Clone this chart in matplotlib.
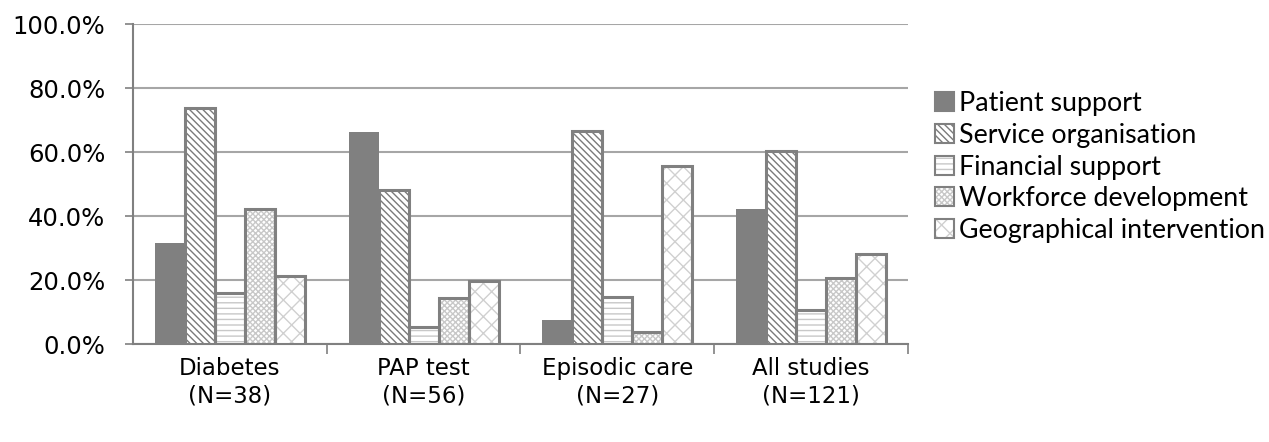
import matplotlib
matplotlib.use("Agg")
import matplotlib.pyplot as plt
import numpy as np
from matplotlib.patches import Patch
from matplotlib.legend_handler import HandlerTuple
from matplotlib.ticker import FuncFormatter, MultipleLocator, FixedLocator

# Share of studies (%) using each intervention type, by care area
groups = ["Diabetes\n(N=38)", "PAP test\n(N=56)", "Episodic care\n(N=27)", "All studies\n(N=121)"]
series = ["Patient support", "Service organisation", "Financial support",
          "Workforce development", "Geographical intervention"]
patient_support = [31.6, 66.1, 7.4, 42.1]
service_organisation = [73.7, 48.2, 66.7, 60.3]
financial_support = [15.8, 5.4, 14.8, 10.7]
workforce_development = [42.1, 14.3, 3.7, 20.7]
geographical_intervention = [21.1, 19.6, 55.6, 28.1]
values = [patient_support, service_organisation, financial_support,
          workforce_development, geographical_intervention]

# fill, hatch pattern, hatch colour
styles = [
    ("#808080", None, "#808080"),
    ("#ffffff", "\\\\\\\\\\", "#7a7a7a"),
    ("#ffffff", "---", "#c8c8c8"),
    ("#ffffff", "xxxxxx", "#c8c8c8"),
    ("#ffffff", "xx", "#d0d0d0"),
]
edge = "#808080"

plt.rcParams["font.family"] = ["DejaVu Sans"]
plt.rcParams["hatch.linewidth"] = 1.0
fig = plt.figure(figsize=(12.69, 4.42), dpi=100)
ax = fig.add_axes([0.1048, 0.2217, 0.6107, 0.724])

x = np.arange(len(groups))
w = 0.155
for i, (vals, (fc, hatch, hc)) in enumerate(zip(values, styles)):
    pos = x + (i - 2) * w
    ax.bar(pos, vals, width=w, color=fc, hatch=hatch, edgecolor=hc,
           linewidth=0, zorder=3)
    ax.bar(pos, vals, width=w, fill=False, edgecolor=edge,
           linewidth=0 if hatch is None else 2.2, zorder=4)

ax.set_xlim(-0.5, len(groups) - 0.5)
ax.set_ylim(0, 100)
ax.yaxis.set_major_locator(MultipleLocator(20))
ax.yaxis.set_major_formatter(FuncFormatter(lambda v, p: f"{v:.1f}%"))
ax.grid(axis="y", color="#a6a6a6", linewidth=1.5, zorder=0)
ax.set_axisbelow(True)

ax.set_xticks(x)
ax.set_xticklabels(groups, linespacing=1.3, family="DejaVu Sans")
ax.xaxis.set_minor_locator(FixedLocator(np.arange(0.5, len(groups), 1.0)))
ax.tick_params(axis="x", which="major", length=0, pad=9, labelsize=16.5)
ax.tick_params(axis="x", which="minor", length=7, width=1.2, color="#808080")
ax.tick_params(axis="y", length=6, width=1.2, color="#808080", pad=14, labelsize=17.5)
for lab in ax.get_yticklabels():
    lab.set_family("DejaVu Sans")

for s in ["top", "right"]:
    ax.spines[s].set_visible(False)
for s in ["left", "bottom"]:
    ax.spines[s].set_color("#808080")
    ax.spines[s].set_linewidth(1.5)

handles = []
for fc, hatch, hc in styles:
    fill = Patch(facecolor=fc, hatch=hatch, edgecolor=hc, linewidth=0)
    frame = Patch(fill=False, edgecolor=edge, linewidth=1.5)
    handles.append((fill, frame))
leg = fig.legend(handles, series, loc="upper left", bbox_to_anchor=(0.7285, 0.818),
                 frameon=False, prop={"family": "Lato", "size": 19.3},
                 handlelength=0.72, handleheight=0.72,
                 handletextpad=0.15, labelspacing=0.25, borderaxespad=0,
                 handler_map={tuple: HandlerTuple(ndivide=1, pad=0)})

fig.savefig("out.png", dpi=100)
